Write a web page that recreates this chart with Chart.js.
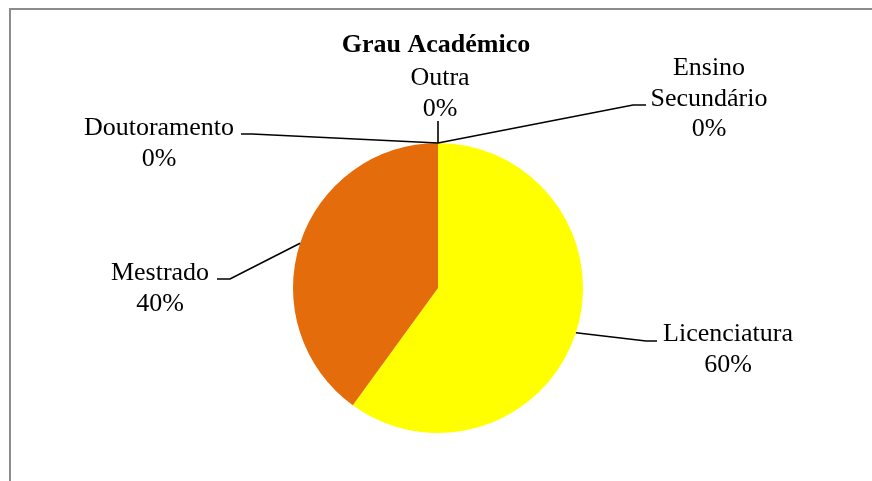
<!DOCTYPE html>
<html>
<head>
<meta charset="utf-8">
<script src="https://cdn.jsdelivr.net/npm/chart.js@4.4.1/dist/chart.umd.min.js"></script>
<style>
  html, body { margin: 0; padding: 0; background: #fff; }
  #wrap { position: relative; width: 872px; height: 481px; }
</style>
</head>
<body>
<div id="wrap"><canvas id="grauChart" width="872" height="481"></canvas></div>
<script>
"use strict";

// data
var chartTitle = "Grau Académico";
var categories = ["Ensino\nSecundário", "Licenciatura", "Mestrado", "Doutoramento", "Outra"];
var percentages = [0, 60, 40, 0, 0];
var sliceColors = ["#4f81bd", "#ffff00", "#e46c0a", "#9bbb59", "#8064a2"];

// where each data label sits (first baseline) and the leader elbow
var labelSpots = [
  { x: 709, y: 75, elbow: [633, 105], end: [646, 105] },
  { x: 728, y: 341, elbow: [646, 341], end: [657, 341] },
  { x: 160, y: 280, elbow: [230, 279], end: [217, 279] },
  { x: 159, y: 135, elbow: [252, 134], end: [241, 134] },
  { x: 440, y: 85, elbow: [438, 121], end: [438, 121] },
];

var FONT = '"Liberation Serif", "Times New Roman", serif';
var LINE_H = 30.5;

var excelLabels = {
  id: "excelLabels",
  beforeDraw: function (chart) {
    var ctx = chart.ctx;
    ctx.save();
    // frame
    ctx.strokeStyle = "#8c8c8c";
    ctx.lineWidth = 2;
    ctx.beginPath();
    ctx.moveTo(10, 481);
    ctx.lineTo(10, 9);
    ctx.lineTo(872, 9);
    ctx.stroke();
    ctx.restore();
  },
  afterDraw: function (chart) {
    var ctx = chart.ctx;
    var meta = chart.getDatasetMeta(0);
    ctx.save();

    // title
    ctx.fillStyle = "#000";
    ctx.font = "bold 26px " + FONT;
    ctx.textAlign = "center";
    ctx.textBaseline = "alphabetic";
    ctx.fillText(chartTitle, 436, 52);

    ctx.font = "26px " + FONT;
    meta.data.forEach(function (arc, idx) {
      var p = arc.getProps(["x", "y", "startAngle", "endAngle", "outerRadius"], true);
      var mid = (p.startAngle + p.endAngle) / 2;
      var sx = p.x + Math.cos(mid) * p.outerRadius;
      var sy = p.y + Math.sin(mid) * p.outerRadius;
      var spot = labelSpots[idx];

      ctx.strokeStyle = "#000";
      ctx.lineWidth = 1.6;
      ctx.beginPath();
      ctx.moveTo(sx, sy);
      ctx.lineTo(spot.elbow[0], spot.elbow[1]);
      ctx.lineTo(spot.end[0], spot.end[1]);
      ctx.stroke();

      var lines = categories[idx].split("\n");
      lines.push(percentages[idx] + "%");
      lines.forEach(function (t, i) {
        ctx.fillText(t, spot.x, spot.y + i * LINE_H);
      });
    });
    ctx.restore();
  },
};

new Chart(document.getElementById("grauChart"), {
  type: "pie",
  data: {
    labels: categories,
    datasets: [
      {
        data: percentages,
        backgroundColor: sliceColors,
        borderWidth: 0,
      },
    ],
  },
  options: {
    responsive: false,
    animation: false,
    layout: {
      padding: { top: 143, bottom: 48, left: 148, right: 144 },
    },
    plugins: {
      legend: { display: false },
      title: { display: false },
      tooltip: { enabled: false },
    },
  },
  plugins: [excelLabels],
});
</script>
</body>
</html>
